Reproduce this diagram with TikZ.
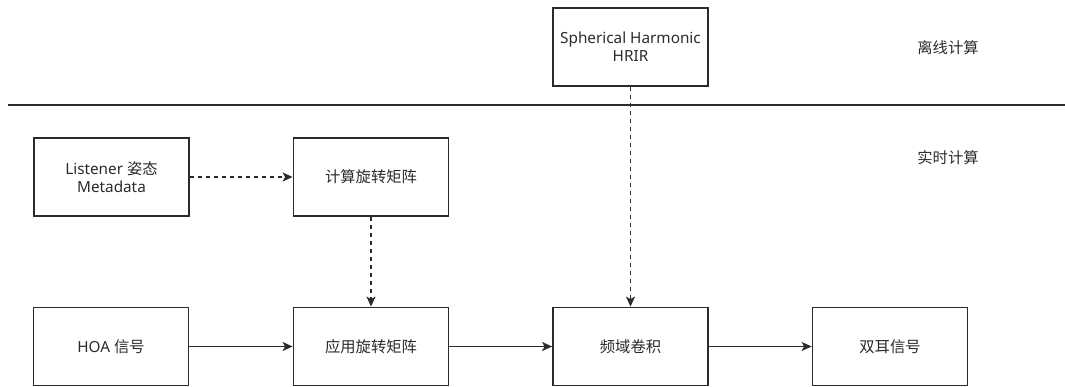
\documentclass[tikz,border=0pt]{standalone}
\usepackage{fontspec}
\setmainfont{Noto Sans}
\newfontfamily\cjk{Noto Sans CJK SC}
\usetikzlibrary{arrows.meta}
\definecolor{ink}{HTML}{2B2B2B}
\tikzset{
  blk/.style={draw=ink, line width=1.8pt, fill=white, minimum width=155pt, minimum height=78pt,
    inner sep=0pt, align=center, text=ink, font=\fontsize{15.3}{18}\selectfont},
  flow/.style={draw=ink, line width=1.5pt, -{Stealth[length=10pt,width=9pt,inset=2.5pt]}},
  dflow/.style={flow, dash pattern=on 4.5pt off 3.5pt},
  zone/.style={text=ink, font=\cjk\fontsize{15.3}{18}\selectfont},
}
\begin{document}
\begin{tikzpicture}[x=1pt,y=-1pt]
  \useasboundingbox (0,0) rectangle (1065,387);
  % divider between offline and realtime parts
  \coordinate (divL) at (8,105);
  \coordinate (divR) at (1065,105);
  \draw[ink, line width=2pt] (divL) -- (divR);
  \node[zone] (offline) at (948,48) {离线计算};
  \node[zone] (realtime) at (948,158) {实时计算};
  % blocks
  \node[blk] (sh)  at (630.5,47)  {Spherical Harmonic\\HRIR};
  \node[blk] (lis) at (111.5,177) {Listener {\cjk 姿态}\\Metadata};
  \node[blk] (rot) at (371,177)   {\cjk 计算旋转矩阵};
  \node[blk] (hoa) at (111,346.5) {HOA {\cjk 信号}};
  \node[blk] (app) at (371,346.5) {\cjk 应用旋转矩阵};
  \node[blk] (fft) at (630.5,346.5) {\cjk 频域卷积};
  \node[blk] (bin) at (890,346.5) {\cjk 双耳信号};
  % connectors
  \draw[dflow] (lis) -- (rot);
  \draw[dflow] (rot) -- (app);
  \draw[dflow] (sh) -- (fft);
  \draw[flow] (hoa) -- (app);
  \draw[flow] (app) -- (fft);
  \draw[flow] (fft) -- (bin);
\end{tikzpicture}
\end{document}
